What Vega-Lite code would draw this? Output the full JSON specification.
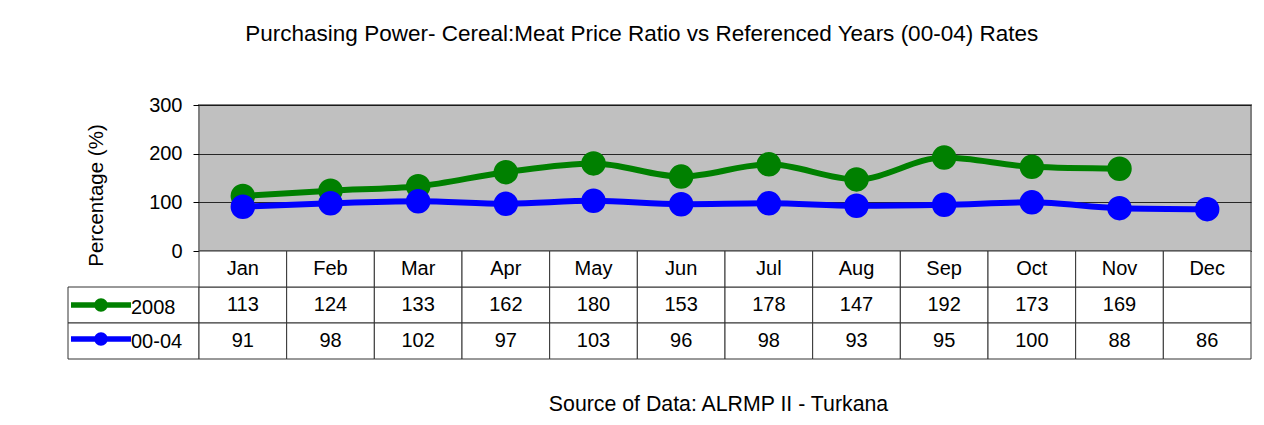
{
  "$schema": "https://vega.github.io/schema/vega-lite/v6.json",
  "padding": {"left": 67, "top": 22, "right": 0, "bottom": 0},
  "autosize": {"type": "pad"},
  "background": "white",
  "config": {
    "view": {"stroke": null},
    "font": "Liberation Sans",
    "text": {"font": "Liberation Sans"},
    "axis": {"labelFont": "Liberation Sans", "titleFont": "Liberation Sans"},
    "legend": {"labelFont": "Liberation Sans"}
  },
  "title": {
    "text": "Purchasing Power- Cereal:Meat Price Ratio vs Referenced Years (00-04) Rates",
    "font": "Liberation Sans",
    "fontSize": 22.5,
    "fontWeight": "normal",
    "color": "#000000",
    "anchor": "middle",
    "offset": 49,
    "dx": -18
  },
  "data": {
    "values": [
      {"Month": "Jan", "Series": "2008", "Value": 113},
      {"Month": "Feb", "Series": "2008", "Value": 124},
      {"Month": "Mar", "Series": "2008", "Value": 133},
      {"Month": "Apr", "Series": "2008", "Value": 162},
      {"Month": "May", "Series": "2008", "Value": 180},
      {"Month": "Jun", "Series": "2008", "Value": 153},
      {"Month": "Jul", "Series": "2008", "Value": 178},
      {"Month": "Aug", "Series": "2008", "Value": 147},
      {"Month": "Sep", "Series": "2008", "Value": 192},
      {"Month": "Oct", "Series": "2008", "Value": 173},
      {"Month": "Nov", "Series": "2008", "Value": 169},
      {"Month": "Dec", "Series": "2008", "Value": null},
      {"Month": "Jan", "Series": "00-04", "Value": 91},
      {"Month": "Feb", "Series": "00-04", "Value": 98},
      {"Month": "Mar", "Series": "00-04", "Value": 102},
      {"Month": "Apr", "Series": "00-04", "Value": 97},
      {"Month": "May", "Series": "00-04", "Value": 103},
      {"Month": "Jun", "Series": "00-04", "Value": 96},
      {"Month": "Jul", "Series": "00-04", "Value": 98},
      {"Month": "Aug", "Series": "00-04", "Value": 93},
      {"Month": "Sep", "Series": "00-04", "Value": 95},
      {"Month": "Oct", "Series": "00-04", "Value": 100},
      {"Month": "Nov", "Series": "00-04", "Value": 88},
      {"Month": "Dec", "Series": "00-04", "Value": 86}
    ]
  },
  "columns": 2,
  "spacing": 0,
  "bounds": "flush",
  "concat": [
    {
      "width": 131,
      "height": 146,
      "transform": [{"filter": "datum.Month == 'Jan' && datum.Series == '2008'"}],
      "mark": {"type": "text"},
      "encoding": {"text": {"value": ""}}
    },
    {
      "width": 1052,
      "height": 146,
      "view": {"fill": "#C0C0C0", "stroke": "#808080", "strokeWidth": 2},
      "encoding": {
        "x": {
          "field": "Month",
          "type": "nominal",
          "sort": ["Jan","Feb","Mar","Apr","May","Jun","Jul","Aug","Sep","Oct","Nov","Dec"],
          "scale": {"type": "point", "padding": 0.5},
          "axis": null
        },
        "y": {
          "field": "Value",
          "type": "quantitative",
          "scale": {"domain": [0, 300], "nice": false, "zero": true},
          "axis": {
            "values": [0, 100, 200, 300],
            "grid": true,
            "gridColor": "#000000",
            "gridWidth": 1,
            "gridOpacity": 0.8,
            "domain": false,
            "ticks": true,
            "tickColor": "#000000",
            "tickSize": 6,
            "labelFontSize": 20,
            "labelColor": "#000000",
            "labelPadding": 11,
            "title": "Percentage (%)",
            "titleFontSize": 20.5,
            "titleFontWeight": "normal",
            "titleColor": "#000000",
            "titleAngle": -90,
            "titleAlign": "center",
            "titleBaseline": "middle",
            "titleX": -103,
            "titleY": 90
          }
        },
        "color": {
          "field": "Series",
          "type": "nominal",
          "scale": {"domain": ["2008", "00-04"], "range": ["#008000", "#0000FF"]},
          "legend": {
            "title": null,
            "orient": "none",
            "legendX": 18,
            "legendY": 185,
            "padding": 0,
            "symbolType": "M-2,-0.18H2V0.18H-2Z M0.45,0A0.45,0.45,0,1,1,-0.45,0A0.45,0.45,0,1,1,0.45,0Z",
            "symbolSize": 900,
            "symbolStrokeWidth": 0,
            "labelFontSize": 20,
            "labelColor": "#000000",
            "labelOffset": 15,
            "labelBaseline": "middle",
            "labelLimit": 200,
            "rowPadding": 6,
            "encode": {
              "symbols": {"update": {"fill": {"scale": "color", "field": "value"}, "stroke": {"value": "transparent"}, "opacity": {"value": 1}}},
              "labels": {"update": {"dy": {"value": 3}}}
            }
          }
        }
      },
      "layer": [
        {
          "transform": [{"filter": "datum.Series == '2008'"}],
          "mark": {"type": "line", "strokeWidth": 6, "interpolate": "monotone"}
        },
        {
          "transform": [{"filter": "datum.Series == '2008'"}],
          "mark": {"type": "point", "filled": true, "size": 600, "opacity": 1}
        },
        {
          "transform": [{"filter": "datum.Series == '00-04'"}],
          "mark": {"type": "line", "strokeWidth": 6, "interpolate": "monotone"}
        },
        {
          "transform": [{"filter": "datum.Series == '00-04'"}],
          "mark": {"type": "point", "filled": true, "size": 600, "opacity": 1}
        }
      ]
    },
    {
      "width": 131,
      "height": 108,
      "transform": [{"filter": "datum.Month == 'Jan'"}],
      "mark": {"type": "rect", "fill": "white", "stroke": "#333333", "strokeWidth": 1},
      "encoding": {
        "y": {
          "field": "Series",
          "type": "nominal",
          "scale": {"domain": ["header", "2008", "00-04"], "paddingInner": 0, "paddingOuter": 0},
          "axis": null
        }
      }
    },
    {
      "width": 1052,
      "height": 108,
      "encoding": {
        "x": {
          "field": "Month",
          "type": "nominal",
          "sort": ["Jan","Feb","Mar","Apr","May","Jun","Jul","Aug","Sep","Oct","Nov","Dec"],
          "scale": {"type": "band", "paddingInner": 0, "paddingOuter": 0},
          "axis": {
            "title": "Source of Data: ALRMP II - Turkana",
            "labels": false,
            "ticks": false,
            "domain": false,
            "titleFontSize": 21.3,
            "titleFontWeight": "normal",
            "titleColor": "#000000",
            "titlePadding": 34,
            "titleX": 519
          }
        }
      },
      "layer": [
        {
          "mark": {"type": "rect", "fill": "white", "stroke": "#333333", "strokeWidth": 1},
          "encoding": {
            "y": {
              "field": "Series",
              "type": "nominal",
              "scale": {"domain": ["header", "2008", "00-04"], "paddingInner": 0, "paddingOuter": 0},
              "axis": null
            }
          }
        },
        {
          "transform": [{"filter": "datum.Series == '2008'"}],
          "mark": {"type": "rect", "fill": "white", "stroke": "#333333", "strokeWidth": 1},
          "encoding": {"y": {"datum": "header"}}
        },
        {
          "transform": [{"filter": "datum.Series == '2008'"}],
          "mark": {"type": "text", "fontSize": 20, "color": "#000000"},
          "encoding": {"y": {"datum": "header"}, "text": {"field": "Month"}}
        },
        {
          "transform": [{"filter": "datum.Value != null"}],
          "mark": {"type": "text", "fontSize": 20, "color": "#000000"},
          "encoding": {
            "y": {"field": "Series", "type": "nominal"},
            "text": {"field": "Value", "type": "quantitative"}
          }
        }
      ]
    }
  ]
}
